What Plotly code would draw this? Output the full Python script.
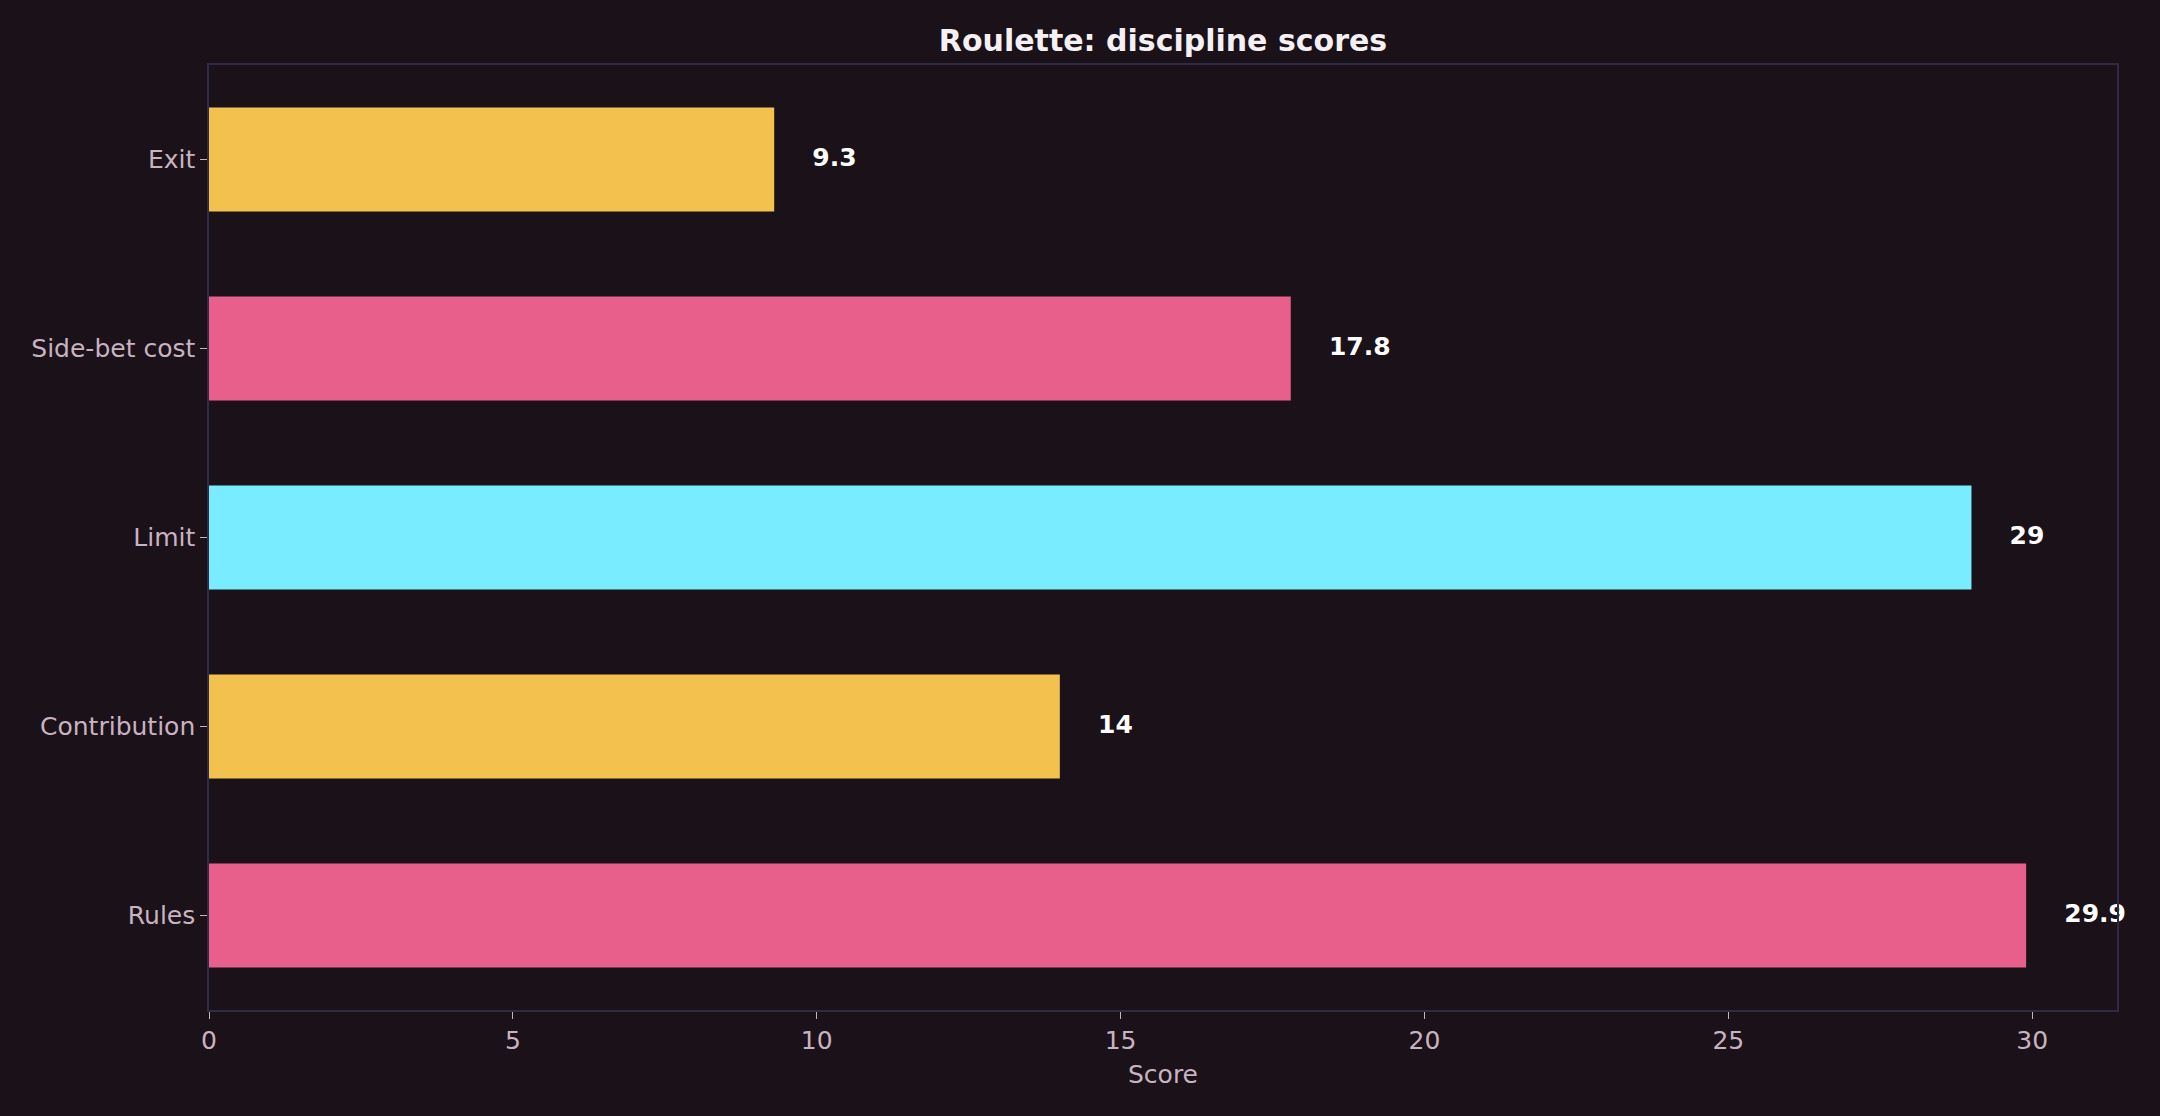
import plotly.graph_objects as go

categories = ["Rules", "Contribution", "Limit", "Side-bet cost", "Exit"]
scores = [29.9, 14, 29, 17.8, 9.3]
bar_colors = ["#E95F8C", "#F2C14E", "#7AECFF", "#E95F8C", "#F2C14E"]
value_labels = ["29.9", "14", "29", "17.8", "9.3"]
x_ticks = [0, 5, 10, 15, 20, 25, 30]

BG = "#1A1119"
SPINE = "#2E2B45"
TICK_COLOR = "#C9B3C1"
FS = 25

fig = go.Figure()
fig.add_trace(go.Bar(
    x=scores, y=categories, orientation="h",
    marker=dict(color=bar_colors, line=dict(width=0)),
    width=0.55, hoverinfo="skip",
))
label_pad = 0.02 * max(scores) * 1.05
fig.add_trace(go.Scatter(
    x=[s + label_pad for s in scores], y=categories, mode="text", text=value_labels,
    textposition="middle right",
    textfont=dict(family="DejaVu Sans", size=FS, color="#FFFFFF", weight="bold"),
    hoverinfo="skip", cliponaxis=False,
))

xmax = max(scores) * 1.05
fig.update_layout(
    width=2160, height=1116,
    paper_bgcolor=BG, plot_bgcolor=BG,
    margin=dict(l=209, r=43, t=65, b=106),
    showlegend=False,
    font=dict(family="DejaVu Sans", color=TICK_COLOR, size=FS),
    title=dict(text="<b>Roulette: discipline scores</b>", x=(209 + 2117) / 2 / 2160, xanchor="center",
               y=1 - 40 / 1116, yanchor="middle",
               font=dict(family="DejaVu Sans", size=30, color="#F5F0F3")),
    xaxis=dict(range=[0, xmax], tickvals=x_ticks, showgrid=False, zeroline=False,
               showline=True, linecolor=SPINE, linewidth=1.5, mirror=True,
               ticks="outside", ticklen=7, tickcolor=TICK_COLOR, tickwidth=1,
               tickfont=dict(size=FS, color=TICK_COLOR),
               title=dict(text="Score", font=dict(size=FS, color=TICK_COLOR), standoff=12)),
    yaxis=dict(range=[-0.5, 4.5], showgrid=False, zeroline=False,
               showline=True, linecolor=SPINE, linewidth=1.5, mirror=True,
               ticks="outside", ticklen=7, tickcolor=TICK_COLOR, tickwidth=1,
               tickfont=dict(size=FS, color=TICK_COLOR)),
)

fig.write_html("out.html", config={"displayModeBar": False},
               post_script="document.body.style.margin='0';document.body.style.overflow='hidden';")
